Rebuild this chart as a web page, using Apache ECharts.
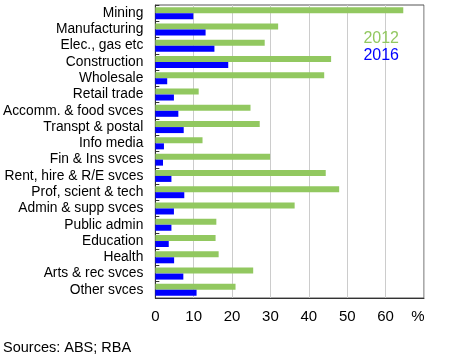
<!DOCTYPE html>
<html>
<head>
<meta charset="utf-8">
<style>
  html, body { margin: 0; padding: 0; background: #fff; }
  #main { width: 468px; height: 360px; }
</style>
<script src="https://cdn.jsdelivr.net/npm/echarts@6/dist/echarts.min.js"></script>
</head>
<body>
<div id="main"></div>
<script>
const categories = ['Mining', 'Manufacturing', 'Elec., gas etc', 'Construction', 'Wholesale',
  'Retail trade', 'Accomm. & food svces', 'Transpt & postal', 'Info media', 'Fin & Ins svces',
  'Rent, hire & R/E svces', 'Prof, scient & tech', 'Admin & supp svces', 'Public admin',
  'Education', 'Health', 'Arts & rec svces', 'Other svces'];
const values2012 = [64.6, 32.0, 28.5, 45.8, 44.0, 11.3, 24.8, 27.2, 12.3, 29.9,
  44.4, 47.9, 36.3, 15.9, 15.7, 16.5, 25.5, 20.9];
const values2016 = [9.9, 13.1, 15.4, 19.0, 3.1, 4.85, 6.0, 7.4, 2.25, 2.0,
  4.2, 7.55, 4.85, 4.2, 3.5, 4.9, 7.3, 10.75];
const xTicks = [0, 10, 20, 30, 40, 50, 60, 70];

const font = 'Arial, "Liberation Sans", sans-serif';
const myChart = echarts.init(document.getElementById('main'));

let option = {
  animation: false,
  backgroundColor: '#fff',
  grid: {
    left: 155,
    right: 44,
    top: 5,
    bottom: 62,
    show: true,
    borderColor: '#555',
    borderWidth: 1
  },
  legend: {
    orient: 'vertical',
    right: 64,
    top: 26,
    icon: 'none',
    itemWidth: 0,
    itemGap: 1,
    textStyle: { fontFamily: font, fontSize: 16 },
    data: [
      { name: '2012', textStyle: { color: '#92C860' } },
      { name: '2016', textStyle: { color: '#0000FF' } }
    ]
  },
  xAxis: {
    type: 'value',
    min: xTicks[0],
    max: xTicks[xTicks.length - 1],
    interval: 10,
    axisLine: { show: true, lineStyle: { color: '#333' } },
    axisTick: { show: false },
    splitLine: { show: true, lineStyle: { color: '#ccc' } },
    axisLabel: {
      color: '#000',
      fontFamily: font,
      fontSize: 15,
      margin: 11,
      formatter: function (v) {
        return v === 70 ? '{p|%}' : String(v);
      },
      rich: {
        p: { fontFamily: font, fontSize: 15, color: '#000', padding: [0, 12, 0, 0] }
      }
    }
  },
  yAxis: {
    type: 'category',
    inverse: true,
    data: categories,
    axisLine: { show: true, lineStyle: { color: '#333' } },
    axisTick: { show: true, inside: true, length: 4, interval: 0, lineStyle: { color: '#333' } },
    axisLabel: {
      interval: 0,
      color: '#000',
      fontFamily: font,
      fontSize: 13.8,
      margin: 12
    }
  },
  series: [
    {
      name: '2012',
      type: 'bar',
      data: values2012,
      barWidth: 6,
      barGap: '0%',
      itemStyle: { color: '#92C860' }
    },
    {
      name: '2016',
      type: 'bar',
      data: values2016,
      barWidth: 6,
      barGap: '0%',
      itemStyle: { color: '#0000FF' }
    }
  ],
  graphic: [
    {
      type: 'text',
      left: 3,
      top: 340,
      style: { text: 'Sources: ABS; RBA', fontFamily: font, fontSize: 14.5, fill: '#000' }
    }
  ]
};
option && myChart.setOption(option);
</script>
</body>
</html>
